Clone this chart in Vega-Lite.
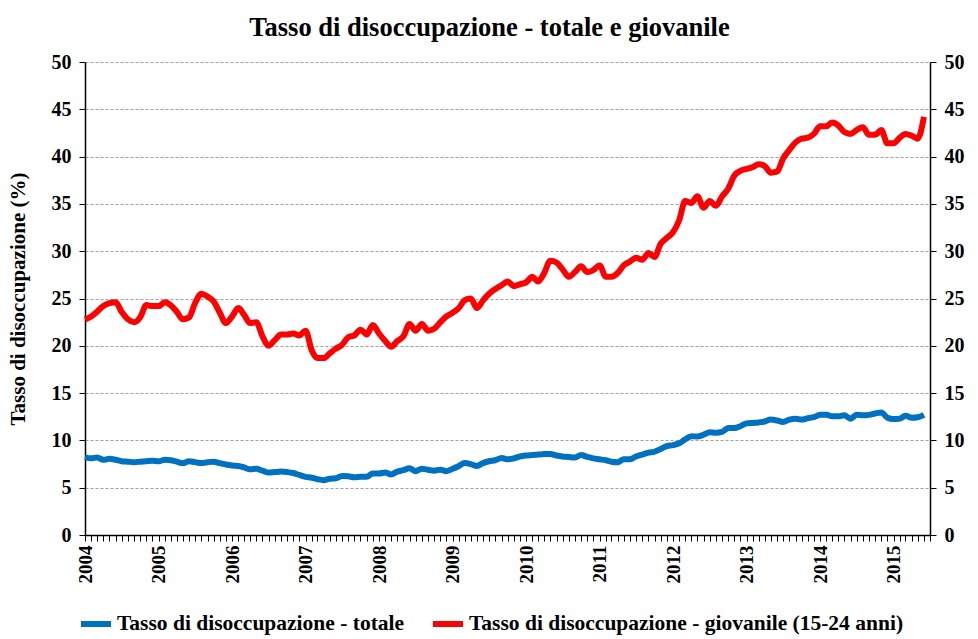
{
  "$schema": "https://vega.github.io/schema/vega-lite/v6.json",
  "width": 845,
  "height": 473,
  "autosize": {"type": "none"},
  "padding": {"left": 85, "top": 62, "right": 48, "bottom": 104},
  "background": "white",
  "title": {"text": "Tasso di disoccupazione - totale e giovanile", "font": "Liberation Serif", "fontSize": 26.5, "fontWeight": "bold", "color": "black", "anchor": "middle", "dx": -18, "offset": 11},
  "config": {
    "view": {"stroke": null},
    "font": "Liberation Serif",
    "axis": {"labelFont": "Liberation Serif", "labelFontWeight": "bold", "labelColor": "black", "domainColor": "black", "tickColor": "black", "domainWidth": 1.5, "tickWidth": 1}
  },
  "data": {"values": [
    {"d":"2004-01-01","t":8.2,"g":22.8},{"d":"2004-02-01","t":8.1,"g":23.1},{"d":"2004-03-01","t":8.2,"g":23.6},{"d":"2004-04-01","t":7.95,"g":24.2},{"d":"2004-05-01","t":8.05,"g":24.5},{"d":"2004-06-01","t":7.95,"g":24.6},{"d":"2004-07-01","t":7.8,"g":23.6},{"d":"2004-08-01","t":7.75,"g":22.8},{"d":"2004-09-01","t":7.7,"g":22.5},{"d":"2004-10-01","t":7.75,"g":23.0},{"d":"2004-11-01","t":7.8,"g":24.3},{"d":"2004-12-01","t":7.85,"g":24.2},
    {"d":"2005-01-01","t":7.8,"g":24.2},{"d":"2005-02-01","t":7.95,"g":24.6},{"d":"2005-03-01","t":7.9,"g":24.3},{"d":"2005-04-01","t":7.75,"g":23.6},{"d":"2005-05-01","t":7.6,"g":22.8},{"d":"2005-06-01","t":7.8,"g":23.0},{"d":"2005-07-01","t":7.7,"g":24.5},{"d":"2005-08-01","t":7.6,"g":25.5},{"d":"2005-09-01","t":7.7,"g":25.2},{"d":"2005-10-01","t":7.75,"g":24.7},{"d":"2005-11-01","t":7.6,"g":23.5},{"d":"2005-12-01","t":7.45,"g":22.4},
    {"d":"2006-01-01","t":7.35,"g":23.1},{"d":"2006-02-01","t":7.3,"g":24.0},{"d":"2006-03-01","t":7.15,"g":23.3},{"d":"2006-04-01","t":6.95,"g":22.4},{"d":"2006-05-01","t":7.0,"g":22.5},{"d":"2006-06-01","t":6.8,"g":21.0},{"d":"2006-07-01","t":6.6,"g":20.0},{"d":"2006-08-01","t":6.65,"g":20.6},{"d":"2006-09-01","t":6.7,"g":21.2},{"d":"2006-10-01","t":6.65,"g":21.2},{"d":"2006-11-01","t":6.55,"g":21.3},{"d":"2006-12-01","t":6.35,"g":21.1},
    {"d":"2007-01-01","t":6.15,"g":21.6},{"d":"2007-02-01","t":6.05,"g":19.5},{"d":"2007-03-01","t":5.9,"g":18.7},{"d":"2007-04-01","t":5.8,"g":18.7},{"d":"2007-05-01","t":5.95,"g":19.2},{"d":"2007-06-01","t":6.0,"g":19.7},{"d":"2007-07-01","t":6.25,"g":20.1},{"d":"2007-08-01","t":6.2,"g":20.9},{"d":"2007-09-01","t":6.1,"g":21.1},{"d":"2007-10-01","t":6.15,"g":21.7},{"d":"2007-11-01","t":6.15,"g":21.2},{"d":"2007-12-01","t":6.5,"g":22.2},
    {"d":"2008-01-01","t":6.5,"g":21.3},{"d":"2008-02-01","t":6.6,"g":20.5},{"d":"2008-03-01","t":6.4,"g":19.9},{"d":"2008-04-01","t":6.7,"g":20.5},{"d":"2008-05-01","t":6.85,"g":21.0},{"d":"2008-06-01","t":7.05,"g":22.3},{"d":"2008-07-01","t":6.75,"g":21.6},{"d":"2008-08-01","t":7.0,"g":22.3},{"d":"2008-09-01","t":6.9,"g":21.6},{"d":"2008-10-01","t":6.8,"g":21.8},{"d":"2008-11-01","t":6.9,"g":22.5},{"d":"2008-12-01","t":6.75,"g":23.1},
    {"d":"2009-01-01","t":7.0,"g":23.5},{"d":"2009-02-01","t":7.3,"g":24.0},{"d":"2009-03-01","t":7.6,"g":24.8},{"d":"2009-04-01","t":7.5,"g":25.0},{"d":"2009-05-01","t":7.3,"g":24.0},{"d":"2009-06-01","t":7.6,"g":24.8},{"d":"2009-07-01","t":7.8,"g":25.5},{"d":"2009-08-01","t":7.9,"g":26.0},{"d":"2009-09-01","t":8.15,"g":26.4},{"d":"2009-10-01","t":8.0,"g":26.8},{"d":"2009-11-01","t":8.1,"g":26.3},{"d":"2009-12-01","t":8.3,"g":26.5},
    {"d":"2010-01-01","t":8.4,"g":26.7},{"d":"2010-02-01","t":8.45,"g":27.3},{"d":"2010-03-01","t":8.5,"g":26.8},{"d":"2010-04-01","t":8.55,"g":27.7},{"d":"2010-05-01","t":8.55,"g":29.0},{"d":"2010-06-01","t":8.4,"g":28.8},{"d":"2010-07-01","t":8.3,"g":28.1},{"d":"2010-08-01","t":8.25,"g":27.3},{"d":"2010-09-01","t":8.2,"g":27.8},{"d":"2010-10-01","t":8.45,"g":28.4},{"d":"2010-11-01","t":8.25,"g":27.8},{"d":"2010-12-01","t":8.1,"g":28.0},
    {"d":"2011-01-01","t":8.0,"g":28.5},{"d":"2011-02-01","t":7.9,"g":27.3},{"d":"2011-03-01","t":7.75,"g":27.3},{"d":"2011-04-01","t":7.7,"g":27.7},{"d":"2011-05-01","t":8.0,"g":28.5},{"d":"2011-06-01","t":8.0,"g":28.9},{"d":"2011-07-01","t":8.3,"g":29.3},{"d":"2011-08-01","t":8.5,"g":29.1},{"d":"2011-09-01","t":8.7,"g":29.8},{"d":"2011-10-01","t":8.8,"g":29.4},{"d":"2011-11-01","t":9.1,"g":30.8},{"d":"2011-12-01","t":9.4,"g":31.4},
    {"d":"2012-01-01","t":9.5,"g":32.0},{"d":"2012-02-01","t":9.7,"g":33.3},{"d":"2012-03-01","t":10.1,"g":35.3},{"d":"2012-04-01","t":10.45,"g":35.1},{"d":"2012-05-01","t":10.4,"g":35.8},{"d":"2012-06-01","t":10.6,"g":34.6},{"d":"2012-07-01","t":10.85,"g":35.3},{"d":"2012-08-01","t":10.8,"g":34.8},{"d":"2012-09-01","t":10.9,"g":35.8},{"d":"2012-10-01","t":11.3,"g":36.6},{"d":"2012-11-01","t":11.3,"g":38.0},{"d":"2012-12-01","t":11.5,"g":38.5},
    {"d":"2013-01-01","t":11.8,"g":38.7},{"d":"2013-02-01","t":11.85,"g":38.9},{"d":"2013-03-01","t":11.9,"g":39.2},{"d":"2013-04-01","t":12.0,"g":39.0},{"d":"2013-05-01","t":12.2,"g":38.3},{"d":"2013-06-01","t":12.1,"g":38.4},{"d":"2013-07-01","t":11.95,"g":39.8},{"d":"2013-08-01","t":12.2,"g":40.7},{"d":"2013-09-01","t":12.3,"g":41.5},{"d":"2013-10-01","t":12.2,"g":41.9},{"d":"2013-11-01","t":12.35,"g":42.0},{"d":"2013-12-01","t":12.45,"g":42.4},
    {"d":"2014-01-01","t":12.7,"g":43.2},{"d":"2014-02-01","t":12.7,"g":43.2},{"d":"2014-03-01","t":12.55,"g":43.6},{"d":"2014-04-01","t":12.55,"g":43.3},{"d":"2014-05-01","t":12.65,"g":42.6},{"d":"2014-06-01","t":12.3,"g":42.4},{"d":"2014-07-01","t":12.7,"g":42.8},{"d":"2014-08-01","t":12.65,"g":43.1},{"d":"2014-09-01","t":12.7,"g":42.3},{"d":"2014-10-01","t":12.85,"g":42.3},{"d":"2014-11-01","t":12.95,"g":42.8},{"d":"2014-12-01","t":12.4,"g":41.4},
    {"d":"2015-01-01","t":12.25,"g":41.4},{"d":"2015-02-01","t":12.3,"g":42.0},{"d":"2015-03-01","t":12.6,"g":42.4},{"d":"2015-04-01","t":12.4,"g":42.2},{"d":"2015-05-01","t":12.45,"g":41.9},{"d":"2015-06-01","t":12.7,"g":44.2}
  ]},
  "transform": [{"fold": ["t", "g"], "as": ["serie", "valore"]}],
  "encoding": {
    "x": {
      "field": "d", "type": "temporal",
      "scale": {"type": "utc", "domain": [{"year": 2004, "month": 1, "date": 1, "utc": true}, {"year": 2015, "month": 7, "date": 1, "utc": true}]},
      "axis": {"title": null, "tickCount": {"interval": "month", "step": 1}, "labelExpr": "utcmonth(datum.value)==0 ? utcFormat(datum.value,'%Y') : ''", "labelAngle": -90, "labelFontSize": 19, "labelOverlap": false, "labelFlush": false, "labelPadding": 4, "tickSize": 6, "grid": false}
    }
  },
  "layer": [
    {
      "mark": {"type": "line", "strokeWidth": 6, "interpolate": "monotone"},
      "encoding": {
        "y": {"field": "valore", "type": "quantitative", "scale": {"domain": [0, 50]},
          "axis": {"title": "Tasso di disoccupazione  (%)", "titleFont": "Liberation Serif", "titleFontSize": 21, "titleFontWeight": "bold", "titleColor": "black", "titlePadding": 23, "values": [0,5,10,15,20,25,30,35,40,45,50], "labelFontSize": 20, "grid": true, "gridColor": "#a0a0a0", "gridDash": [3, 2], "tickSize": 6, "labelPadding": 8}},
        "color": {"field": "serie", "type": "nominal",
          "scale": {"domain": ["t", "g"], "range": ["#0070C0", "#FF0000"]},
          "legend": {"orient": "none", "legendX": -7, "legendY": 544, "direction": "horizontal", "title": null,
            "labelExpr": "datum.value=='t' ? 'Tasso di disoccupazione - totale' : 'Tasso di disoccupazione - giovanile (15-24 anni)'",
            "labelFont": "Liberation Serif", "labelFontSize": 21.5, "labelFontWeight": "bold", "labelColor": "black", "labelLimit": 700,
            "symbolType": "stroke", "symbolSize": 900, "symbolStrokeWidth": 6, "columnPadding": 16, "labelOffset": 3}}
      }
    },
    {
      "mark": {"type": "line", "strokeOpacity": 0},
      "encoding": {
        "y": {"field": "valore", "type": "quantitative", "scale": {"domain": [0, 50]},
          "axis": {"orient": "right", "title": null, "values": [0,5,10,15,20,25,30,35,40,45,50], "labelFontSize": 20, "grid": false, "tickSize": 6, "labelPadding": 8}},
        "detail": {"field": "serie"}
      }
    }
  ],
  "resolve": {"axis": {"y": "independent"}}
}
